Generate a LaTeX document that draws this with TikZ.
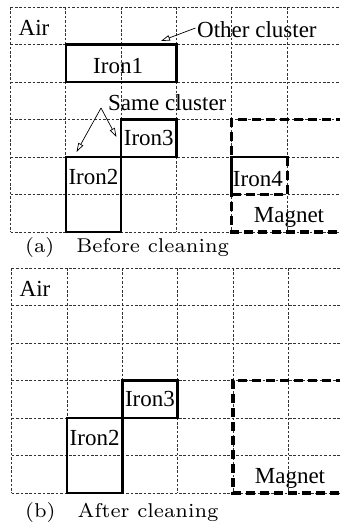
\documentclass[tikz,border=0pt]{standalone}
\usepackage{fontspec}
\newfontfamily\labelfont{Liberation Serif}
\newfontfamily\captfont{lmroman7-regular.otf}
\usetikzlibrary{arrows.meta}

\tikzset{
  gridline/.style={black!80, line width=0.7pt, dash pattern=on 2.6pt off 1.8pt},
  ironline/.style={line width=2.6pt, line cap=rect},
  ironbox/.style={draw, ironline, inner sep=0pt, minimum width=55.3pt, minimum height=37.5pt,
                  font=\labelfont\fontsize{23}{23}\selectfont},
  magnetline/.style={line width=3.2pt, dash pattern=on 9pt off 5pt},
  lbl/.style={font=\labelfont\fontsize{23}{23}\selectfont, inner sep=0pt},
  callout/.style={-{Triangle[open, length=9pt, width=5.5pt]}, line width=0.7pt},
  capt/.style={font=\captfont\fontsize{20}{20}\selectfont, inner sep=0pt, anchor=west}
}

% dashed cell grid: 6 columns x 6 rows, cut off at the right edge
\newcommand\cellgrid[2]{%
  \foreach \i in {0,...,5}
    \draw[gridline] ({#1+\i*55.3},#2) -- ({#1+\i*55.3},{#2+225});
  \foreach \j in {0,...,6}
    \draw[gridline] (#1,{#2+\j*37.5}) -- (345,{#2+\j*37.5});
}

\begin{document}
\begin{tikzpicture}[x=1pt, y=-1pt]
  \useasboundingbox (0,0) rectangle (340,523);
  \clip (0,0) rectangle (340,523);

  % ---------- (a) before cleaning ----------
  \cellgrid{10.5}{7}
  \node[lbl] (airA) at (34,28) {Air};

  \node[ironbox, minimum width=110.6pt] (iron1) at (121.1,63.25) {};
  \node[lbl] at ([xshift=-3pt,yshift=-3pt]iron1.center) {Iron1};
  \node[ironbox] (iron3a) at (148.75,138.25) {Iron3};
  \node[ironbox, minimum height=75pt] (iron2a) at (93.45,194.5) {};
  \node[lbl] at ([yshift=-21pt]iron2a.north) {Iron2};

  % magnet region and the iron piece inside it
  \draw[magnetline] (345,119.5) -- (231.7,119.5) -- (231.7,232) -- (345,232);
  \node[inner sep=0pt, minimum width=55.3pt, minimum height=37.5pt] (iron4) at (259.35,175.75) {};
  \node[lbl] at ([xshift=-1.5pt,yshift=-3pt]iron4.center) {Iron4};
  \draw[ironline] (iron4.south west) -- (iron4.north west) -- (iron4.north east);
  \draw[magnetline] (iron4.north east) -- (iron4.south east) -- (iron4.south west);
  \node[lbl] (magA) at (289,217) {Magnet};

  % callouts
  \node[lbl, anchor=west] (other) at (197,30) {Other cluster};
  \coordinate (otherTip) at (161,41);
  \draw[callout] ([xshift=-1.5pt,yshift=2pt]other.west) -- (otherTip);

  \node[lbl, anchor=west] (same) at (108,103) {Same cluster};
  \coordinate (sameFrom) at (101,108);
  \coordinate (tip2) at (76.5,152);
  \coordinate (tip3) at (116.5,137);
  \draw[callout] (sameFrom) -- (tip2);
  \draw[callout] (sameFrom) -- (tip3);

  \node[capt] (captA) at (25,247) {(a)\hspace{22pt}Before cleaning};

  % ---------- (b) after cleaning ----------
  \cellgrid{11.7}{268}
  \node[lbl] (airB) at (35,289) {Air};

  \node[ironbox] (iron3b) at (149.95,399.25) {Iron3};
  \node[ironbox, minimum height=75pt] (iron2b) at (94.65,455.5) {};
  \node[lbl] at ([yshift=-21pt]iron2b.north) {Iron2};

  \draw[magnetline] (345,380.5) -- (232.9,380.5) -- (232.9,493) -- (345,493);
  \node[lbl] (magB) at (290,478) {Magnet};

  \node[capt] (captB) at (25,512) {(b)\hspace{22pt}After cleaning};
\end{tikzpicture}
\end{document}
